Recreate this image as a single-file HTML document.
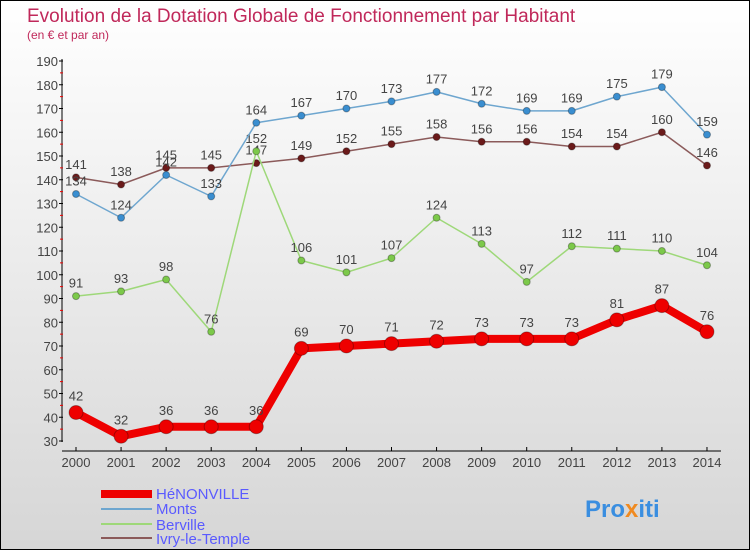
<!DOCTYPE html>
<html><head><meta charset="utf-8"><style>
body{margin:0;}
#c{position:relative;width:748px;height:548px;border:1px solid #000;background:linear-gradient(#ffffff,#d6d6d6);font-family:"Liberation Sans",sans-serif;overflow:hidden}
</style></head><body>
<div id="c">
<svg id="s" width="748" height="548" xmlns="http://www.w3.org/2000/svg">
<text x="26" y="21" font-size="19" fill="#c0285a">Evolution de la Dotation Globale de Fonctionnement par Habitant</text>
<text x="26" y="38" font-size="12" fill="#c0285a">(en € et par an)</text>
<g id="axes"></g><g id="series"></g>
<g>
<rect x="100" y="489" width="51" height="8" fill="#e00"/>
<text x="155" y="498" font-size="15" fill="#5a5aff">HéNONVILLE</text>
<rect x="100" y="507" width="51" height="2" fill="#6ea6cf"/>
<text x="155" y="513" font-size="15" fill="#5a5aff">Monts</text>
<rect x="100" y="522" width="51" height="2" fill="#9ed879"/>
<text x="155" y="529" font-size="15" fill="#5a5aff">Berville</text>
<rect x="100" y="536" width="51" height="2" fill="#8b5a5a"/>
<text x="155" y="543" font-size="15" fill="#5a5aff">Ivry-le-Temple</text>
</g>
<text x="584" y="516" font-size="24" font-weight="bold" fill="#3a8ee0">Pro<tspan fill="#f08a20">x</tspan>iti</text>
</svg>
</div>
<script>
const years=[2000,2001,2002,2003,2004,2005,2006,2007,2008,2009,2010,2011,2012,2013,2014];
const henonville=[42,32,36,36,36,69,70,71,72,73,73,73,81,87,76];
const monts=[134,124,142,133,164,167,170,173,177,172,169,169,175,179,159];
const berville=[91,93,98,76,152,106,101,107,124,113,97,112,111,110,104];
const ivry=[141,138,145,145,147,149,152,155,158,156,156,154,154,160,146];
const yTicks=[30,40,50,60,70,80,90,100,110,120,130,140,150,160,170,180,190];
const NS="http://www.w3.org/2000/svg";
function X(i){return 75+i*45.07;}
function Y(v){return 440-(v-30)*2.375;}
function mk(t,a,p){const e=document.createElementNS(NS,t);for(const k in a)e.setAttribute(k,a[k]);p.appendChild(e);return e;}
const ax=document.getElementById('axes'),sg=document.getElementById('series');
let l=mk('line',{x1:61,y1:58,x2:61,y2:441,stroke:'#000'},ax);


l=mk('line',{x1:61,y1:450,x2:720,y2:450,stroke:'#000'},ax);


yTicks.forEach((v,i)=>{
 mk('line',{x1:58,x2:62,y1:Y(v),y2:Y(v),stroke:'#000'},ax);
 if(i<yTicks.length-1)mk('line',{x1:59,x2:62,y1:Y(v+5),y2:Y(v+5),stroke:'#e00'},ax);
 const t=mk('text',{x:57,y:Y(v)+5,'font-size':13,fill:'#444','text-anchor':'end'},ax);
 t.textContent=v;
 
 
});
years.forEach((y,i)=>{
 mk('line',{x1:X(i),x2:X(i),y1:446,y2:450,stroke:'#000'},ax);
 const t=mk('text',{x:X(i),y:466,'font-size':13,fill:'#444','text-anchor':'middle'},ax);
 t.textContent=y;
 
 
});
function series(arr,name,color,dot,w,r,fs){
 const g=mk('g',{},sg);
 
 
 const p=mk('polyline',{points:arr.map((v,i)=>X(i)+','+Y(v)).join(' '),fill:'none',stroke:color,'stroke-width':w,'stroke-linejoin':'round'},g);
 
 
 arr.forEach((v,i)=>{
  const c=mk('circle',{cx:X(i),cy:Y(v),r:r,fill:dot,stroke:'rgba(0,0,0,0.3)'},g);
  
  
  const t=mk('text',{x:X(i),y:Y(v)-r-5,'font-size':fs,fill:'#444','text-anchor':'middle'},g);
  t.textContent=v;
  
  
 });
}
series(ivry,'ivry','#8b5a5a','#6b1a1a',1.5,3.5,13);
series(berville,'berville','#9ed879','#7cc94a',1.5,3.5,13);
series(monts,'monts','#6ea6cf','#3a8ed0',1.5,3.5,13);
series(henonville,'henonville','#e00','#e00',8,7,13);
</script>
</body></html>
